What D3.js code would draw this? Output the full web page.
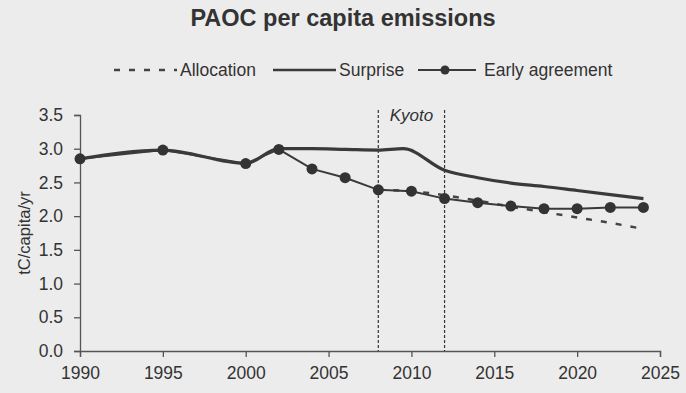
<!DOCTYPE html>
<html><head><meta charset="utf-8">
<script src="https://cdn.jsdelivr.net/npm/d3@7"></script>
<style>
html,body{margin:0;padding:0;background:#ececec;}
svg{display:block;}
</style></head>
<body>
<svg id="chart" width="686" height="393"></svg>
<script>
const title = "PAOC per capita emissions";
const yLabel = "tC/capita/yr";
const xTicks = [1990, 1995, 2000, 2005, 2010, 2015, 2020, 2025];
const yTicks = [0, 0.5, 1.0, 1.5, 2.0, 2.5, 3.0, 3.5];
const kyotoYears = [2008, 2012];
const kyotoLabel = "Kyoto";

const earlyYears = [1990, 1995, 2000, 2002, 2004, 2006, 2008, 2010, 2012, 2014, 2016, 2018, 2020, 2022, 2024];
const earlyValues = [2.85, 2.98, 2.78, 2.99, 2.70, 2.57, 2.39, 2.37, 2.26, 2.20, 2.15, 2.11, 2.11, 2.13, 2.13];

const surpriseYears = [1990, 1995, 2000, 2002, 2004, 2006, 2008, 2009.5, 2012, 2014, 2016, 2018, 2020, 2022, 2024];
const surpriseValues = [2.85, 2.98, 2.78, 3.00, 3.00, 2.99, 2.98, 3.00, 2.68, 2.57, 2.49, 2.44, 2.38, 2.32, 2.26];

const allocYears = [2008, 2010, 2012, 2014, 2016, 2018, 2020, 2022, 2024];
const allocValues = [2.39, 2.37, 2.31, 2.23, 2.14, 2.06, 1.98, 1.90, 1.81];

const legendItems = ["Allocation", "Surprise", "Early agreement"];

const svg = d3.select("#chart");
const ink = "#333";
const font = "'Liberation Sans', Arial, sans-serif";

const x = d3.scaleLinear().domain([1990, 2025]).range([80, 660]);
const y = d3.scaleLinear().domain([0, 3.5]).range([351, 115]);

// title
svg.append("text").attr("x", 343).attr("y", 26).attr("text-anchor", "middle")
  .attr("font-family", font).attr("font-weight", "bold").attr("font-size", 23.5)
  .attr("fill", ink).text(title);

// axes
const xAxis = svg.append("g").attr("transform", `translate(0,${y(0)})`)
  .call(d3.axisBottom(x).tickValues(xTicks).tickFormat(d3.format("d")).tickSize(6).tickPadding(6));
const yAxis = svg.append("g").attr("transform", `translate(${x(1990)},0)`)
  .call(d3.axisLeft(y).tickValues(yTicks).tickFormat(d3.format(".1f")).tickSize(6).tickPadding(11));
[xAxis, yAxis].forEach(g => {
  g.selectAll("path,line").attr("stroke", "#555").attr("stroke-width", 1.3);
  g.selectAll("text").attr("font-family", font).attr("font-size", 17.5).attr("fill", ink);
});
xAxis.selectAll("text").attr("dy", "0.9em");

// y label
svg.append("text").attr("transform", `translate(30,${(y(0)+y(3.5))/2}) rotate(-90)`)
  .attr("text-anchor", "middle").attr("font-family", font).attr("font-size", 16.5)
  .attr("fill", ink).text(yLabel);

// Kyoto lines
kyotoYears.forEach(k => {
  svg.append("line").attr("x1", x(k)).attr("x2", x(k)).attr("y1", 110).attr("y2", y(0))
    .attr("stroke", "#333").attr("stroke-width", 1.2).attr("stroke-dasharray", "3,2");
});
svg.append("text").attr("x", (x(kyotoYears[0]) + x(kyotoYears[1])) / 2).attr("y", 121)
  .attr("text-anchor", "middle").attr("font-family", font).attr("font-style", "italic")
  .attr("font-size", 17).attr("fill", ink).text(kyotoLabel);

const line = d3.line().x(d => x(d[0])).y(d => y(d[1])).curve(d3.curveMonotoneX);

const alloc = d3.zip(allocYears, allocValues);
const early = d3.zip(earlyYears, earlyValues);
const surprise = d3.zip(surpriseYears, surpriseValues);

svg.append("path").datum(alloc).attr("d", line).attr("fill", "none")
  .attr("stroke", "#444").attr("stroke-width", 2.5).attr("stroke-dasharray", "6,9");
svg.append("path").datum(early).attr("d", d3.line().x(d => x(d[0])).y(d => y(d[1])))
  .attr("fill", "none").attr("stroke", "#3a3a3a").attr("stroke-width", 2);
svg.append("path").datum(surprise).attr("d", line).attr("fill", "none")
  .attr("stroke", "#3a3a3a").attr("stroke-width", 3.2);
svg.selectAll("circle.early").data(early).enter().append("circle").attr("class", "early")
  .attr("cx", d => x(d[0])).attr("cy", d => y(d[1])).attr("r", 5.5).attr("fill", "#333");

// legend
const ly = 70;
const lg = svg.append("g");
lg.append("line").attr("x1", 114).attr("x2", 177).attr("y1", ly).attr("y2", ly)
  .attr("stroke", "#444").attr("stroke-width", 2.5).attr("stroke-dasharray", "6,9");
lg.append("text").attr("x", 180).attr("y", ly + 6).attr("font-family", font).attr("font-size", 17.5)
  .attr("fill", ink).text(legendItems[0]);
lg.append("line").attr("x1", 273).attr("x2", 336).attr("y1", ly).attr("y2", ly)
  .attr("stroke", "#3a3a3a").attr("stroke-width", 2.5);
lg.append("text").attr("x", 339).attr("y", ly + 6).attr("font-family", font).attr("font-size", 17.5)
  .attr("fill", ink).text(legendItems[1]);
lg.append("line").attr("x1", 418).attr("x2", 476).attr("y1", ly).attr("y2", ly)
  .attr("stroke", "#3a3a3a").attr("stroke-width", 2);
lg.append("circle").attr("cx", 445).attr("cy", ly).attr("r", 4.5).attr("fill", "#333");
lg.append("text").attr("x", 484).attr("y", ly + 6).attr("font-family", font).attr("font-size", 17.5)
  .attr("fill", ink).text(legendItems[2]);
</script>
</body></html>
